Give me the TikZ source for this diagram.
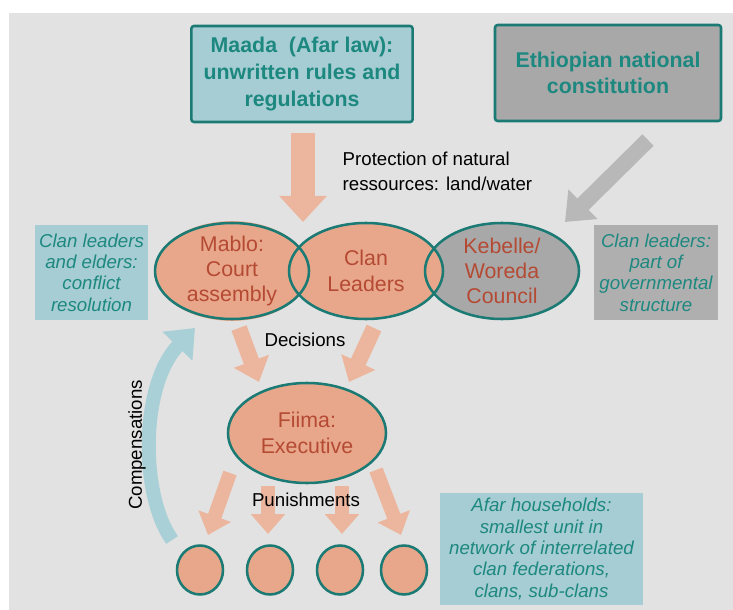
\documentclass[tikz,border=0pt]{standalone}
\usepackage{fontspec}
\setmainfont{Liberation Sans}
\usetikzlibrary{arrows.meta,shapes.geometric}

\definecolor{bggray}{HTML}{E2E2E2}
\definecolor{tealline}{HTML}{1B7B74}
\definecolor{tealtext}{HTML}{1D8880}
\definecolor{lawblue}{HTML}{A6CDD3}
\definecolor{lawgray}{HTML}{A8A8A8}
\definecolor{notegray}{HTML}{AFAFAF}
\definecolor{orangefill}{HTML}{E8A78A}
\definecolor{orangearrow}{HTML}{EBB69D}
\definecolor{brick}{HTML}{B54A34}
\definecolor{arcblue}{HTML}{A9CFD7}
\definecolor{arrowgray}{HTML}{B8B8B8}

\tikzset{
	lawbox/.style={draw=tealline, line width=1.9pt, rounded corners=2pt, minimum height=72pt, align=center, text=tealtext, font=\fontsize{16}{20}\selectfont\bfseries},
	notebox/.style={inner sep=0pt, minimum height=71.25pt, align=center, text=tealtext, font=\fontsize{14}{16}\selectfont\itshape},
	oval/.style={ellipse, inner sep=0pt, minimum width=115.5pt, minimum height=72pt, align=center, text=brick, font=\fontsize{16}{19}\selectfont},
	hhold/.style={ellipse, inner sep=0pt, minimum width=34.5pt, minimum height=36.75pt, fill=orangefill, draw=tealline, line width=1.9pt},
	plain/.style={text=black, font=\fontsize{14}{19}\selectfont},
	ring/.style={draw=tealline, line width=1.9pt},
	fatarrow/.style={orangearrow, line width=18pt, -{Triangle[length=19.5pt, width=34.5pt]}},
	medarrow/.style={orangearrow, line width=12pt, -{Triangle[length=16.5pt, width=27pt]}},
	thinarrow/.style={orangearrow, line width=10.5pt, -{Triangle[length=15pt, width=25pt]}}
}

\begin{document}
\begin{tikzpicture}[x=0.75pt, y=-0.75pt]
		%%%%% START %%%%%
		\useasboundingbox (0,0) rectangle (733,610);
		\fill[bggray] (9,13) rectangle (733,610);
		
		% the two sources of law
		\node[lawbox, fill=lawblue, minimum width=166pt] (maada) at (302,74) {Maada\ \ (Afar law):\\unwritten rules and\\regulations};
		\node[lawbox, fill=lawgray, minimum width=169.5pt] (ethio) at (608,73) {Ethiopian national\\constitution};
		
		% side notes
		\node[notebox, fill=lawblue, minimum width=84.75pt] (clannote) at (91.5,272.5) {Clan leaders\\and elders:\\conflict\\resolution};
		\node[notebox, fill=notegray, minimum width=93pt] (govnote) at (656,272.5) {Clan leaders:\\part of\\governmental\\structure};
		\node[notebox, fill=lawblue, minimum width=152.25pt, minimum height=84pt] (afarnote) at (541.5,549) {Afar households:\\smallest unit in\\network of interrelated\\clan federations,\\clans, sub-clans};
		
		% three institutions, fills first and rings on top
		\node[oval, fill=lawgray] (kebelle) at (502,271) {Kebelle/\\Woreda\\Council};
		\node[oval, fill=orangefill] (clan) at (366,271) {Clan\\Leaders};
		\node[oval, fill=orangefill] (mablo) at (232,271) {Mablo:\\Court\\assembly};
		\draw[ring] (mablo.center) ellipse [x radius=57.75pt, y radius=36pt];
		\draw[ring] (clan.center) ellipse [x radius=57.75pt, y radius=36pt];
		\draw[ring] (kebelle.center) ellipse [x radius=57.75pt, y radius=36pt];
		
		\node[oval, fill=orangefill, draw=tealline, line width=1.9pt, minimum width=118.5pt, minimum height=75pt] (fiima) at (307,433) {Fiima:\\Executive};
		
		% households
		\node[hhold] (hh1) at (200,570) {};
		\node[hhold] (hh2) at (270,570) {};
		\node[hhold] (hh3) at (340,570) {};
		\node[hhold] (hh4) at (404,570) {};
		
		% arrow ends
		\coordinate (lawtail) at (303,133);
		\coordinate (lawtip) at (303,222);
		\coordinate (govtail) at (648,140);
		\coordinate (govtip) at (565,222);
		\coordinate (mablofoot) at (239,328);
		\coordinate (clanfoot) at (374,328);
		\coordinate (fiimaleft) at (259,382);
		\coordinate (fiimaright) at (349,382);
		\coordinate (comptail) at (172,540);
		\coordinate (comptip) at (195,328);
		
		\draw[fatarrow] (lawtail) -- (lawtip);
		\draw[arrowgray, line width=12pt, -{Triangle[length=19pt, width=30pt]}] (govtail) -- (govtip);
		
		\draw[medarrow] (mablofoot) -- (fiimaleft);
		\draw[medarrow] (clanfoot) -- (fiimaright);
		
		\draw[thinarrow] (230,473) -- (208,535);
		\draw[thinarrow] (268,486) -- (268,534);
		\draw[thinarrow] (342,486) -- (342,534);
		\draw[thinarrow] (376,470) -- (401,535);
		
		\draw[arcblue, line width=10.5pt, -{Triangle[length=19pt, width=30pt]}] (comptail) .. controls (140,495) and (140,385) .. (comptip);
		
		% arrow labels
		\node[plain, anchor=west, align=left] (protect) at (338,171) {Protection of natural\\ressources: land/water};
		\node[plain] (decide) at (305,340) {Decisions};
		\node[plain] (punish) at (306,500) {Punishments};
		\node[plain, rotate=90] (compens) at (137,445) {Compensations};
		%%%%% END %%%%%
	\end{tikzpicture}
\end{document}
